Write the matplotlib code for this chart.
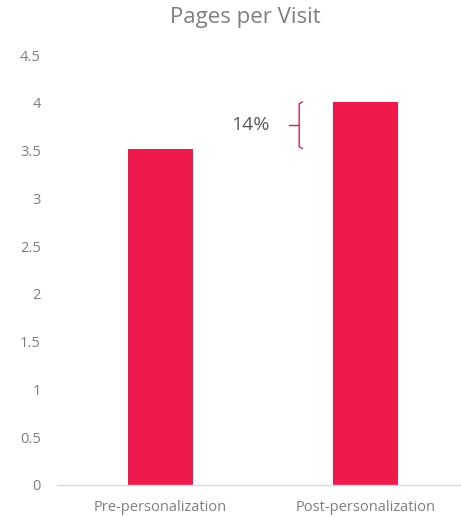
import matplotlib
matplotlib.use("Agg")
import matplotlib.pyplot as plt

categories = ["Pre-personalization", "Post-personalization"]
values = [3.52, 4.01]
lift_label = "14%"
y_ticks = [0, 0.5, 1, 1.5, 2, 2.5, 3, 3.5, 4, 4.5]
y_tick_labels = ["0", "0.5", "1", "1.5", "2", "2.5", "3", "3.5", "4", "4.5"]

bar_color = "#EE1A4C"
plt.rcParams["font.family"] = ["Open Sans", "DejaVu Sans"]

fig = plt.figure(figsize=(4.61, 5.17), dpi=100)
ax = fig.add_axes([0.1247, 0.0619, 0.8753, 0.8317])

x = list(range(len(categories)))
ax.bar(x, values, width=0.317, color=bar_color, zorder=2)

ax.set_xlim(-0.502, 1.468)
ax.set_ylim(0, 4.5)
ax.set_yticks(y_ticks)
ax.set_yticklabels(y_tick_labels)
ax.set_xticks(x)
ax.set_xticklabels(categories)

for side in ["top", "right", "left"]:
    ax.spines[side].set_visible(False)
ax.spines["bottom"].set_color("#D9D9D9")
ax.spines["bottom"].set_linewidth(1.0)

ax.tick_params(axis="y", length=0, pad=12, labelsize=10.5, labelcolor="#7F7F7F")
ax.tick_params(axis="x", length=0, pad=11, labelsize=10.5, labelcolor="#7F7F7F")

fig.text(245 / 461, 1 - 18 / 517, "Pages per Visit", ha="center", va="center",
         fontsize=16, color="#7F7F7F")

# Bracket showing the lift between the two bars
bx = 0.678
lo, hi = values[0], values[1]
mid = (lo + hi) / 2
ax.plot([bx + 0.016, bx, bx, bx + 0.016], [hi, hi - 0.02, lo + 0.02, lo],
        color="#C8284F", lw=1.0, solid_capstyle="round", zorder=3)
ax.plot([bx - 0.048, bx], [mid, mid], color="#C8284F", lw=1.0, zorder=3)
ax.text(0.44, mid, lift_label, ha="center", va="center", fontsize=14, color="#595959")

fig.savefig("out.png", dpi=100)
